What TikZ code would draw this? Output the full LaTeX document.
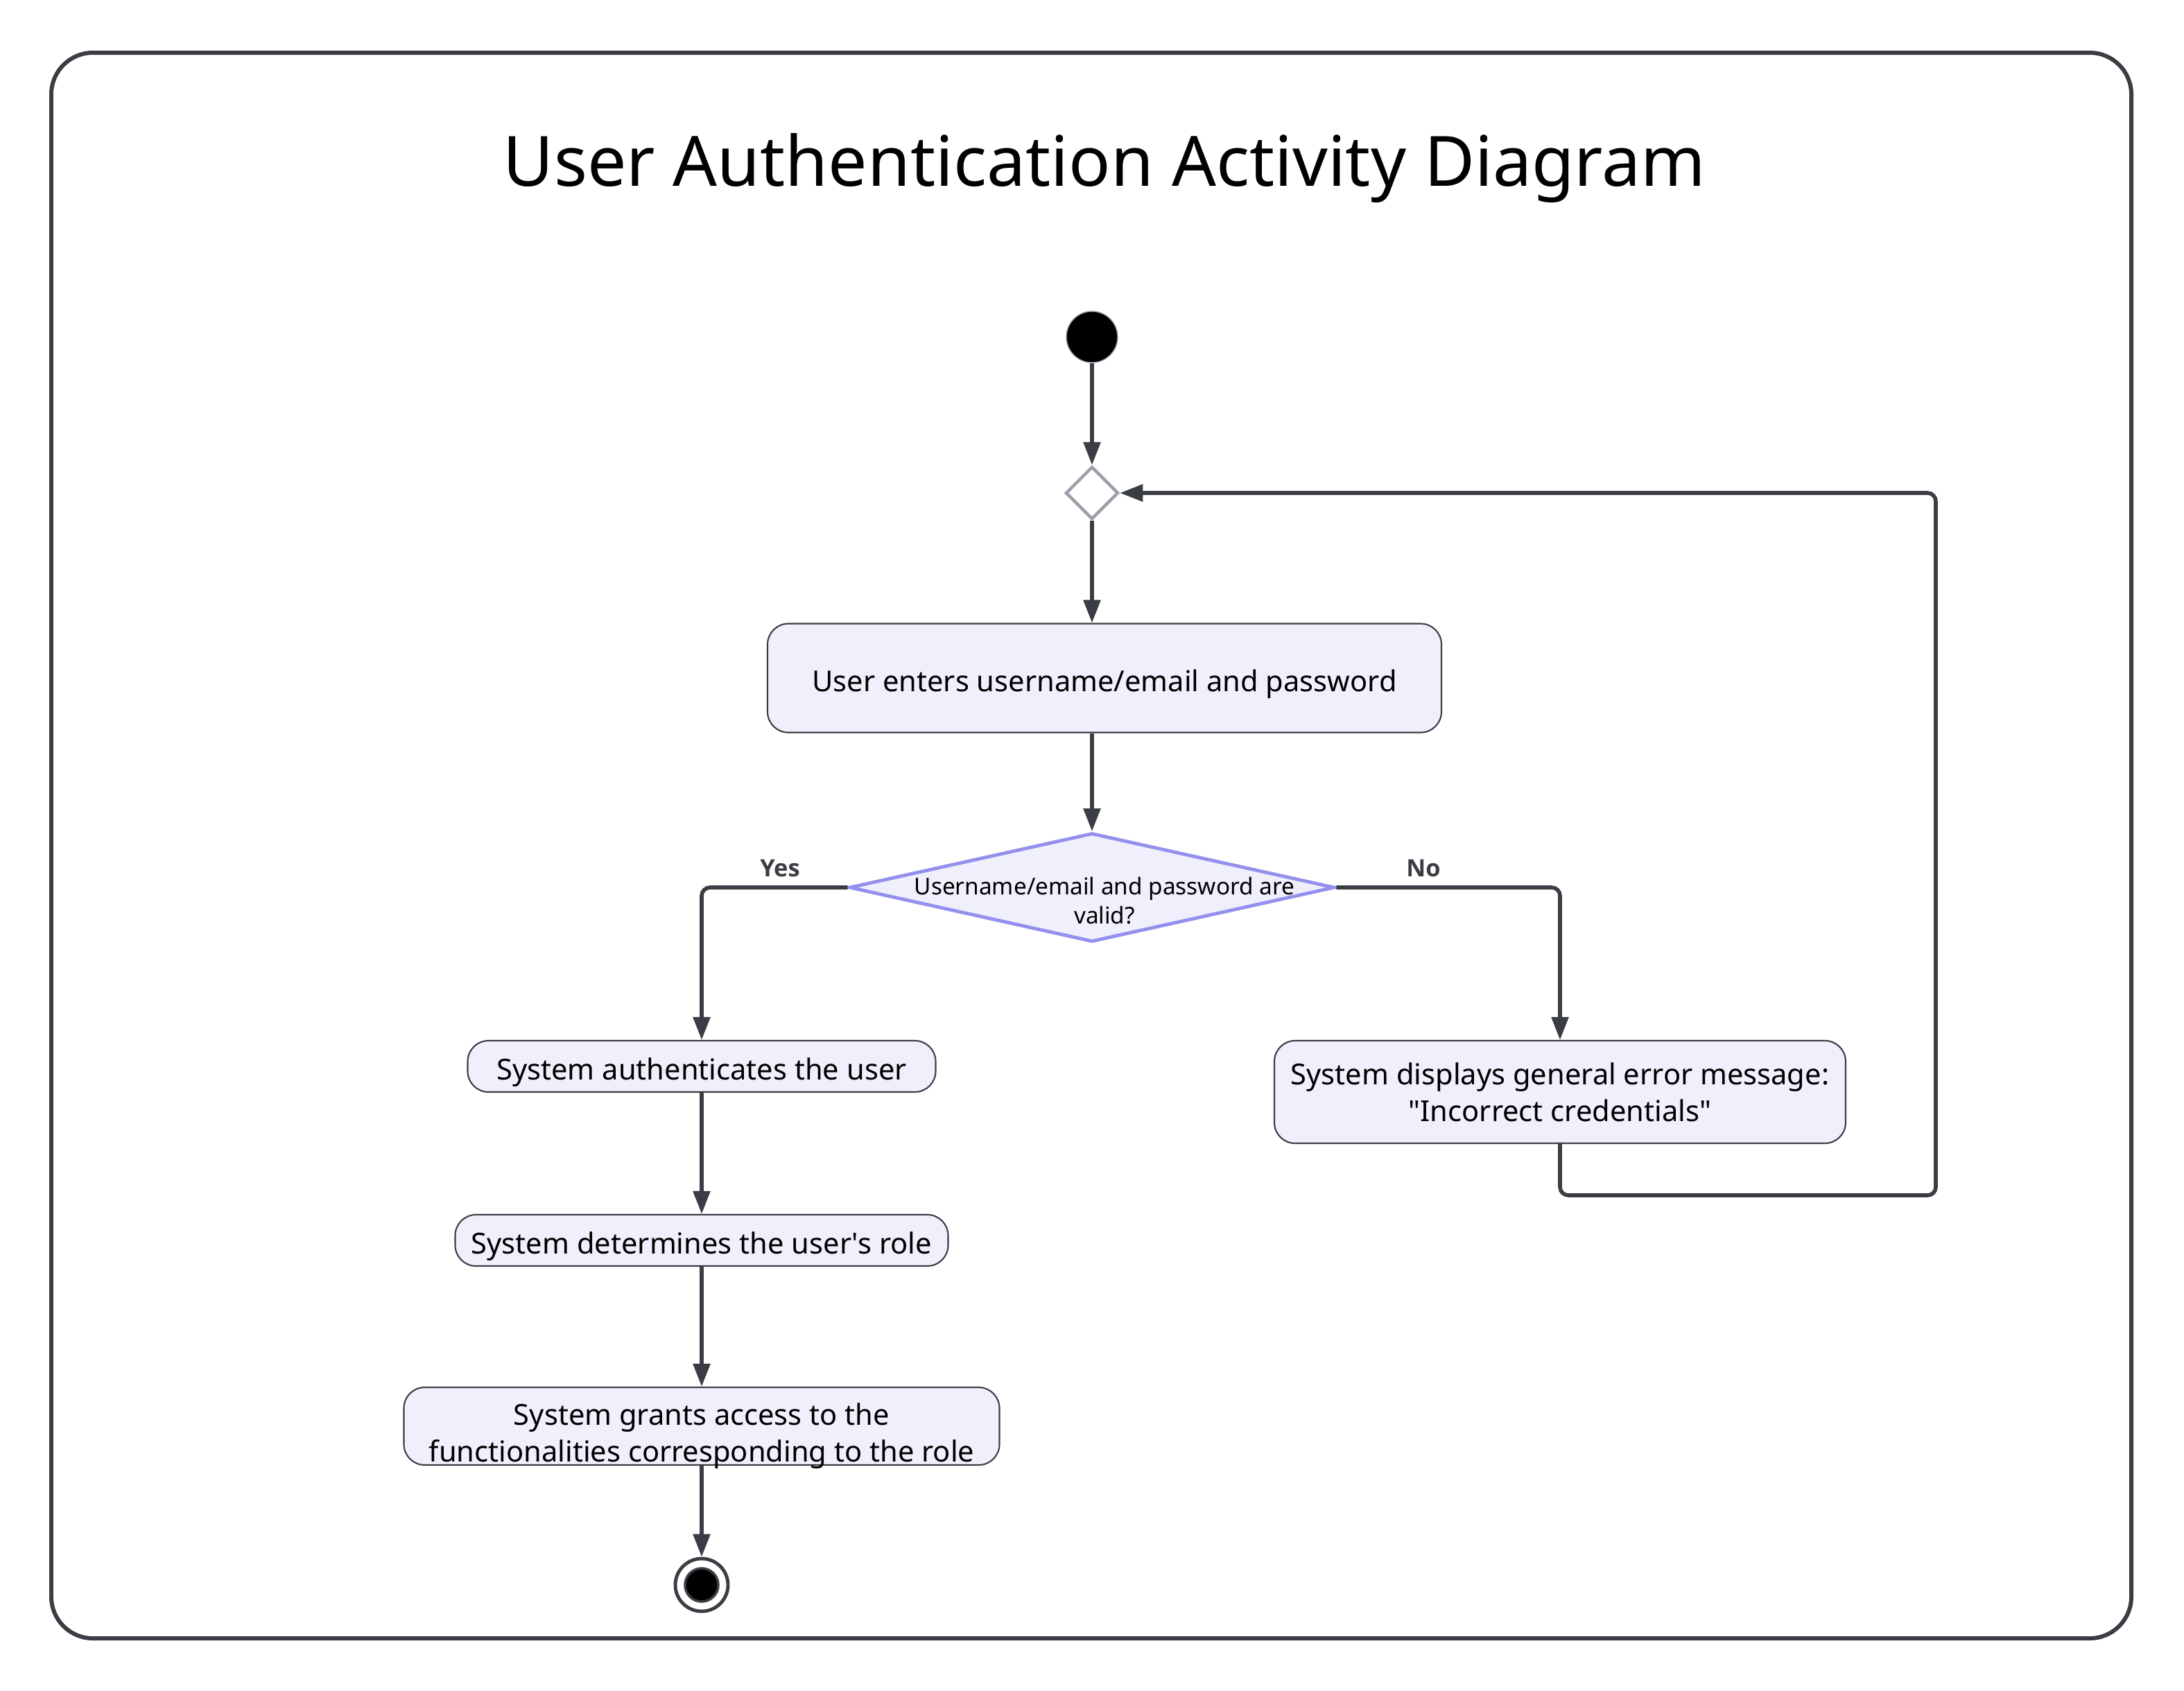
\documentclass[tikz,border=0pt]{standalone}
\usepackage{fontspec}
\setmainfont{Noto Sans}[AutoFakeBold=2.2]
\newfontfamily\branchfont{Open Sans}
\usetikzlibrary{arrows.meta,shapes.geometric}

\definecolor{linegray}{HTML}{3B3D45}
\definecolor{actfill}{HTML}{F0F0FD}
\definecolor{decline}{HTML}{9490EE}
\definecolor{mergegray}{HTML}{9CA0A8}

\tikzset{
  flow/.style={draw=linegray, line width=1.6pt, rounded corners=0.12cm,
    -{Triangle[length=3.3mm,width=2.4mm]}},
  activity/.style={draw=linegray, fill=actfill, line width=0.6pt,
    rounded corners=0.3cm, align=center, inner sep=0pt,
    font=\fontsize{11.85}{15}\selectfont},
  oneline/.style={text height=11pt, text depth=0pt},
  acttext/.style={align=center, inner sep=0pt, font=\fontsize{11.85}{15}\selectfont},
  decision/.style={diamond, draw=decline, fill=actfill, line width=1.4pt,
    aspect=4.46, inner sep=0pt},
  decisiontext/.style={align=center, font=\fontsize{9.5}{11.8}\selectfont},
  branch/.style={font=\branchfont\bfseries\fontsize{9.8}{11}\selectfont, text=linegray}
}

\begin{document}
\begin{tikzpicture}
\useasboundingbox (0,0) rectangle (31.5,-24.38);
\draw[linegray, line width=1.7pt, rounded corners=0.6cm] (0.74,-0.76) rectangle (30.74,-23.63);

\node (title) at (15.93,-2.42) {\fontsize{28.5}{32}\selectfont User Authentication Activity Diagram};

% start and merge
\node[circle, fill=black, draw=mergegray, line width=0.4pt, minimum size=0.74cm, inner sep=0pt] (start) at (15.75,-4.86) {};
\node[diamond, draw=mergegray, fill=white, line width=1.3pt, minimum size=0.76cm, inner sep=0pt] (merge) at (15.75,-7.11) {};

% activities
\node[activity, oneline, minimum width=9.72cm, minimum height=1.57cm] (enter) at (15.93,-9.78) {User enters username/email and password};
\node[decision, minimum width=7.0cm, minimum height=1.57cm] (valid) at (15.75,-12.80) {};
\node[decisiontext] (validtext) at (15.93,-12.99) {Username/email and password are\\valid?};
\node[activity, oneline, minimum width=6.75cm, minimum height=0.74cm] (auth) at (10.12,-15.38) {System authenticates the user};
\node[activity, oneline, minimum width=7.11cm, minimum height=0.74cm] (role) at (10.12,-17.89) {System determines the user\textquotesingle s role};
\node[activity, minimum width=8.59cm, minimum height=1.12cm] (grant) at (10.12,-20.57) {};
\node[acttext] (granttext) at (10.12,-20.71) {System grants access to the\\functionalities corresponding to the role};
\node[activity, minimum width=8.24cm, minimum height=1.48cm] (error) at (22.50,-15.75) {System displays general error message:\\\textquotedbl Incorrect credentials\textquotedbl};

% final node
\node[circle, draw=linegray, fill=white, line width=1.4pt, minimum size=0.76cm, inner sep=0pt] (final) at (10.12,-22.86) {};
\node[circle, fill=black, draw=linegray, line width=1pt, minimum size=0.48cm, inner sep=0pt] (finaldot) at (final) {};

\node[branch] (yes) at (11.25,-12.52) {Yes};
\node[branch] (no) at (20.53,-12.52) {No};

% connectors
\draw[flow] (start) -- (merge);
\draw[flow] (merge) -- (merge |- enter.north);
\draw[flow] (enter.south -| valid.north) -- (valid.north);
\draw[flow] (valid.west) -| (auth.north);
\draw[flow] (valid.east) -| (error.north);
\draw[flow] (auth) -- (role);
\draw[flow] (role) -- (grant);
\draw[flow] (grant) -- (final);
\coordinate (loopbot) at (27.92,-17.24);
\draw[flow] (error.south) |- (loopbot) |- (merge.east);
\end{tikzpicture}
\end{document}
